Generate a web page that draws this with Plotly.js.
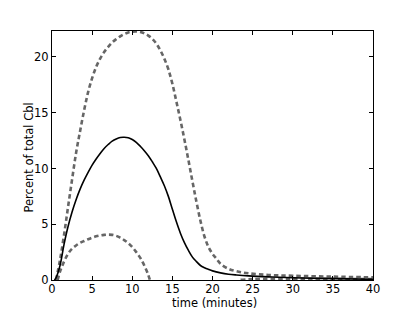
<!DOCTYPE html>
<html>
<head>
<meta charset="utf-8">
<script src="https://cdn.plot.ly/plotly-3.0.1.min.js"></script>
<style>html,body{margin:0;padding:0;background:#fff;}#chart{width:415px;height:312px;}</style>
</head>
<body>
<div id="chart"></div>
<script>
// Mean curve (solid black)
const meanX = [0.3, 0.5, 1.0, 1.5, 2.0, 2.5, 3.0, 3.5, 4.0, 4.5, 5.0, 5.5, 6.0, 6.5, 7.0, 7.5, 8.0, 8.5, 9.0, 9.5, 10.0, 10.5, 11.0, 11.5, 12.0, 12.5, 13.0, 13.5, 14.0, 14.5, 15.0, 15.5, 16.0, 16.5, 17.0, 17.5, 18.0, 18.5, 19.0, 19.5, 20.0, 21, 22, 23, 24.5, 27, 30, 35, 40];
const meanY = [0, 0.2, 1.3, 3.2, 4.8, 6.1, 7.2, 8.15, 8.95, 9.65, 10.3, 10.85, 11.35, 11.8, 12.15, 12.45, 12.65, 12.78, 12.8, 12.75, 12.6, 12.35, 12.0, 11.6, 11.15, 10.6, 10.0, 9.25, 8.45, 7.5, 6.35, 5.22, 4.2, 3.35, 2.65, 2.05, 1.65, 1.3, 1.1, 0.95, 0.82, 0.64, 0.52, 0.45, 0.37, 0.28, 0.2, 0.12, 0.06];

// Upper bound (dashed gray)
const upperX = [0.5, 1.0, 1.5, 2.0, 2.5, 3.0, 3.5, 4.0, 4.5, 5.0, 5.5, 6.0, 6.5, 7.0, 7.5, 8.0, 8.5, 9.0, 9.5, 10.0, 10.5, 11.0, 11.5, 12.0, 12.5, 13.0, 13.5, 14.0, 14.5, 15.0, 15.5, 16.0, 16.5, 17.0, 17.5, 18.0, 18.5, 19.0, 19.5, 20.0, 20.5, 21.0, 22, 23, 24.5, 27, 30, 35, 40];
const upperY = [0, 1.8, 4.05, 6.55, 9.0, 11.4, 13.35, 15.2, 16.85, 18.1, 19.1, 19.85, 20.45, 20.9, 21.3, 21.6, 21.85, 22.05, 22.2, 22.27, 22.3, 22.25, 22.12, 21.92, 21.62, 21.2, 20.6, 19.85, 18.9, 17.6, 16.0, 14.35, 12.6, 10.75, 8.85, 7.0, 5.3, 3.9, 2.95, 2.35, 1.9, 1.45, 1.0, 0.78, 0.6, 0.45, 0.38, 0.3, 0.24];

// Lower bound (dashed gray); below zero between ~12.2 and ~23.5 (not shown)
const lowerX = [0.7, 1.0, 1.5, 2.0, 2.5, 3.0, 3.5, 4.0, 4.5, 5.0, 5.5, 6.0, 6.5, 7.0, 7.5, 8.0, 8.5, 9.0, 9.5, 10.0, 10.5, 11.0, 11.5, 12.0, 12.2, 12.3, 23.5, 25, 30, 35, 40];
const lowerY = [0, 0.75, 1.65, 2.35, 2.8, 3.1, 3.33, 3.5, 3.66, 3.8, 3.92, 4.0, 4.05, 4.07, 4.05, 3.96, 3.8, 3.58, 3.3, 2.95, 2.5, 1.98, 1.3, 0.45, 0, null, 0.02, 0.08, 0.1, 0.1, 0.08];

const xTicks = [0, 5, 10, 15, 20, 25, 30, 35, 40];
const yTicks = [0, 5, 10, 15, 20];

const font = {family: 'DejaVu Sans, sans-serif', size: 11.5, color: '#000'};
const dashStyle = {color: '#666666', width: 2.6, dash: '4.5px,3px', shape: 'spline', smoothing: 1};

const traces = [
  {x: upperX, y: upperY, mode: 'lines', line: dashStyle, hoverinfo: 'skip', connectgaps: false},
  {x: lowerX, y: lowerY, mode: 'lines', line: dashStyle, hoverinfo: 'skip', connectgaps: false},
  {x: meanX, y: meanY, mode: 'lines', line: {color: '#000', width: 1.6, shape: 'spline', smoothing: 1}, hoverinfo: 'skip'}
];

const axisCommon = {
  showgrid: false, zeroline: false, showline: true, linecolor: '#000', linewidth: 1,
  mirror: 'ticks', ticks: 'inside', ticklen: 4, tickwidth: 1, tickcolor: '#000',
  tickfont: font
};

const layout = {
  width: 415, height: 312,
  margin: {l: 52, r: 42, t: 31, b: 32, pad: 0},
  paper_bgcolor: '#fff', plot_bgcolor: '#fff',
  showlegend: false,
  font: font,
  xaxis: Object.assign({}, axisCommon, {
    range: [0, 40], tickvals: xTicks, ticktext: xTicks.map(String), ticklabelstandoff: -2
  }),
  yaxis: Object.assign({}, axisCommon, {
    range: [0, 22.33], tickvals: yTicks, ticktext: yTicks.map(String)
  }),
  annotations: [
    {text: 'time (minutes)', xref: 'paper', yref: 'paper', x: 0.506, y: 0, xanchor: 'center', yanchor: 'top', yshift: -15, borderpad: 0, showarrow: false, font: font},
    {text: 'Percent of total Cbl', xref: 'paper', yref: 'paper', x: 0, y: 0.492, xanchor: 'center', yanchor: 'middle', xshift: -23, textangle: -90, showarrow: false, font: font}
  ]
};

Plotly.newPlot('chart', traces, layout, {staticPlot: true, displayModeBar: false});
</script>
</body>
</html>
